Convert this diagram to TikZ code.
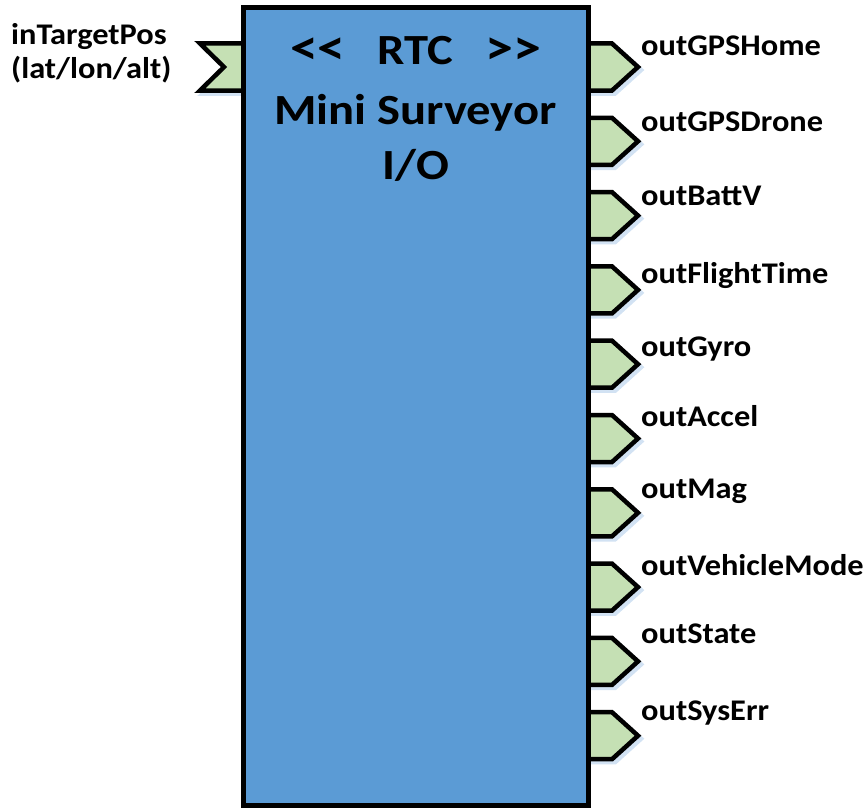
\documentclass[tikz,border=0pt]{standalone}
\usepackage{fontspec}
\setmainfont{Carlito}[Ligatures=TeXOff]
\newfontfamily\labelfont{Carlito}[Ligatures=TeXOff, FakeStretch=1.08]
\newfontfamily\titlefont{Carlito}[Ligatures=TeXOff, FakeStretch=1.13]
\definecolor{blockblue}{HTML}{5B9BD5}
\definecolor{portgreen}{HTML}{C5E0B4}
\definecolor{portshade}{HTML}{D2E2F3}

\begin{document}
\begin{tikzpicture}[x=1pt,y=-1pt,
  portbody/.style={draw=black, line width=4.5pt, fill=portgreen, line join=miter},
  portshadow/.style={draw=portshade, line width=4.5pt, fill=portshade, line join=miter},
  blockbody/.style={draw=black, line width=5pt, fill=blockblue},
  portlabel/.style={anchor=base west, inner sep=0pt, font=\labelfont\bfseries\fontsize{30}{36}\selectfont},
  titletext/.style={anchor=base, inner sep=0pt, font=\titlefont\bfseries\fontsize{43}{52}\selectfont}
]
\useasboundingbox (0,0) rectangle (867,808);

% input port (notched flag on the left side)
\begin{scope}[shift={(3,3)}]
  \draw[portshadow] (243,43.5) -- (200,43.5) -- (224,67) -- (200,90.5) -- (243,90.5);
\end{scope}
\draw[portbody] (243,43.5) -- (200,43.5) -- (224,67) -- (200,90.5) -- (243,90.5);

% output ports (pointed tabs on the right side)
\foreach \i in {0,...,9} {
  \pgfmathsetmacro{\pt}{43.5+74.3*\i}
  \begin{scope}[shift={(3,3)}]
    \draw[portshadow] (588,\pt) -- (612,\pt) -- (638,\pt+23.5) -- (612,\pt+47) -- (588,\pt+47);
  \end{scope}
  \draw[portbody] (588,\pt) -- (612,\pt) -- (638,\pt+23.5) -- (612,\pt+47) -- (588,\pt+47);
}

% the component block
\node[blockbody, minimum width=345pt, minimum height=798pt, inner sep=0pt]
  (block) at (415.5,406.5) {};

% block title
\node[titletext] (stereo) at (415.5,65)
  {\scalebox{1.15}{<<}\hspace{32pt}RTC\hspace{32pt}\scalebox{1.15}{>>}};
\node[titletext] (name) at (415.5,124) {Mini Surveyor};
\node[titletext] (io) at (415.5,179) {I/O};

% input label
\node[portlabel] (inA) at (11,45) {inTargetPos};
\node[portlabel] (inB) at (11,78) {(lat/lon/alt)};

% output labels
\foreach \n/\txt/\b in {0/outGPSHome/56, 1/outGPSDrone/131, 2/outBattV/205,
    3/outFlightTime/283, 4/outGyro/356, 5/outAccel/426, 6/outMag/498,
    7/outVehicleMode/575, 8/outState/643, 9/outSysErr/720} {
  \node[portlabel] (out\n) at (641,\b) {\txt};
}
\end{tikzpicture}
\end{document}
